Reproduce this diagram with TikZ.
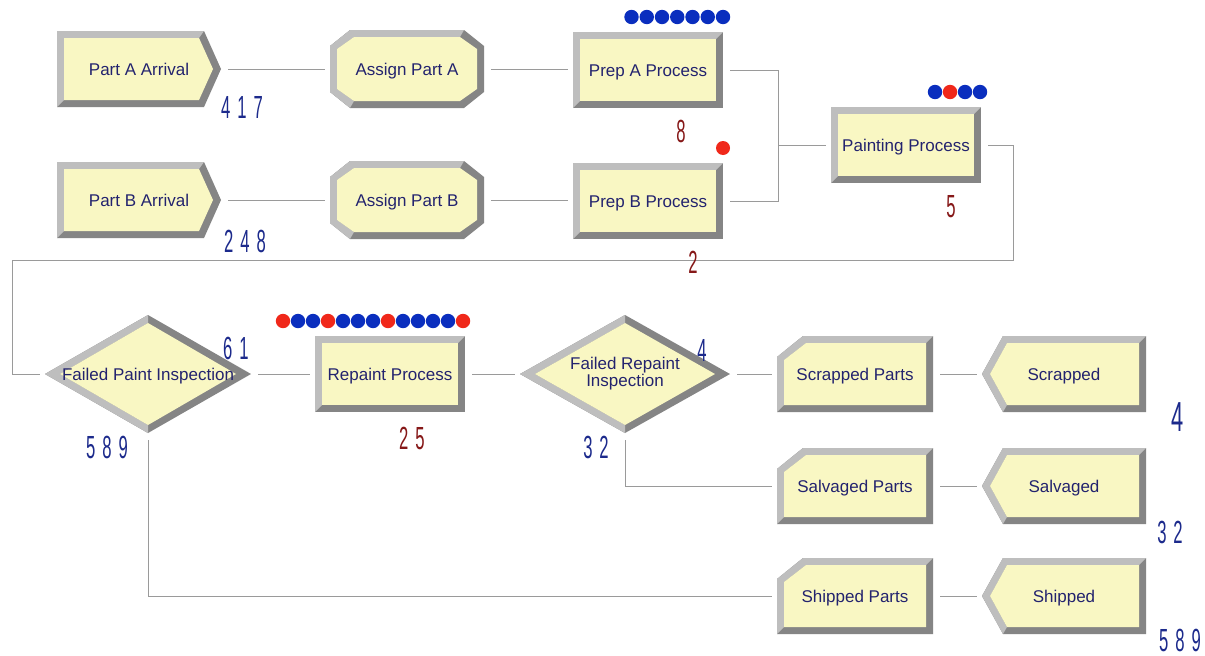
\documentclass[tikz,border=0pt]{standalone}
\usepackage{fontspec}
\setmainfont{Liberation Sans}
\newfontfamily\cntfont[FakeStretch=0.52]{Liberation Sans}
\newcommand{\gp}{\hspace{7pt}}
\definecolor{facec}{HTML}{F9F7C3}
\definecolor{lightc}{HTML}{BEBEBE}
\definecolor{darkc}{HTML}{858585}
\definecolor{txtc}{HTML}{23236E}
\definecolor{linec}{HTML}{9A9A9A}
\definecolor{cblue}{HTML}{1C2A8C}
\definecolor{cred}{HTML}{861818}
\definecolor{qblue}{HTML}{0A2EBE}
\definecolor{qred}{HTML}{F0281A}
\tikzset{
  bvdark/.style={fill=darkc},
  bvlight/.style={fill=lightc},
  bvface/.style={fill=facec},
  mod/.style={font=\fontsize{17}{17}\selectfont, text=txtc, align=center, inner sep=0pt, text height=12pt, text depth=0pt},
  createnode/.style={mod, minimum width=164pt, minimum height=76pt},
  assignnode/.style={mod, minimum width=154pt, minimum height=78pt},
  procnode/.style={mod, minimum width=150pt, minimum height=76pt},
  recnode/.style={mod, minimum width=156pt, minimum height=76pt},
  dispnode/.style={mod, minimum width=164pt, minimum height=76pt},
  decnode/.style={mod, minimum height=118pt},
  conn/.style={draw=linec, line width=1pt, shorten <=7pt, shorten >=5pt},
  cntb/.style={font=\cntfont\fontsize{32}{32}\selectfont, text=cblue, inner sep=0pt},
  cntr/.style={font=\cntfont\fontsize{32}{32}\selectfont, text=cred, inner sep=0pt},
  qb/.style={fill=qblue},
  qr/.style={fill=qred}
}
\newcommand{\CreateShape}[2]{%
  \begin{scope}[shift={(#1,#2)}]
    \fill[bvdark] (-82,-38) -- (65,-38) -- (82,0) -- (65,38) -- (-82,38) -- cycle;
    \fill[bvlight] (-82,38) -- (-82,-38) -- (65,-38) -- (60,-31) -- (-75,-31) -- (-75,31) -- cycle;
    \fill[bvface] (-75,-31) -- (60,-31) -- (74,0) -- (60,31) -- (-75,31) -- cycle;
  \end{scope}}
\newcommand{\AssignShape}[2]{%
  \begin{scope}[shift={(#1,#2)}]
    \fill[bvdark] (-77,-23) -- (-57,-39) -- (57,-39) -- (77,-23) -- (77,23) -- (57,39) -- (-57,39) -- (-77,23) -- cycle;
    \fill[bvlight] (-57,39) -- (-77,23) -- (-77,-23) -- (-57,-39) -- (57,-39) -- (53,-32) -- (-53,-32) -- (-70,-20) -- (-70,20) -- (-53,32) -- cycle;
    \fill[bvface] (-70,-20) -- (-53,-32) -- (53,-32) -- (70,-20) -- (70,20) -- (53,32) -- (-53,32) -- (-70,20) -- cycle;
  \end{scope}}
\newcommand{\ProcShape}[2]{%
  \begin{scope}[shift={(#1,#2)}]
    \fill[bvdark] (-75,-38) rectangle (75,38);
    \fill[bvlight] (-75,38) -- (-75,-38) -- (75,-38) -- (68,-31) -- (-68,-31) -- (-68,31) -- cycle;
    \fill[bvface] (-68,-31) rectangle (68,31);
  \end{scope}}
\newcommand{\RecShape}[2]{%
  \begin{scope}[shift={(#1,#2)}]
    \fill[bvdark] (-78,-17) -- (-52,-38) -- (78,-38) -- (78,38) -- (-78,38) -- cycle;
    \fill[bvlight] (-78,38) -- (-78,-17) -- (-52,-38) -- (78,-38) -- (71,-31) -- (-49,-31) -- (-71,-14) -- (-71,31) -- cycle;
    \fill[bvface] (-71,-14) -- (-49,-31) -- (71,-31) -- (71,31) -- (-71,31) -- cycle;
  \end{scope}}
\newcommand{\DispShape}[2]{%
  \begin{scope}[shift={(#1,#2)}]
    \fill[bvdark] (-82,0) -- (-61,-38) -- (82,-38) -- (82,38) -- (-61,38) -- cycle;
    \fill[bvlight] (-61,38) -- (-82,0) -- (-61,-38) -- (82,-38) -- (75,-31) -- (-57,-31) -- (-74,0) -- (-57,31) -- cycle;
    \fill[bvface] (-74,0) -- (-57,-31) -- (75,-31) -- (75,31) -- (-57,31) -- cycle;
  \end{scope}}
\newcommand{\DecShape}[3]{%
  \begin{scope}[shift={(#1,#2)}]
    \fill[bvdark] (-#3,0) -- (0,-59) -- (#3,0) -- (0,59) -- cycle;
    \fill[bvlight] (0,-59) -- (-#3,0) -- (0,59) -- (0,51) -- ({-(#3-15)},0) -- (0,-51) -- cycle;
    \fill[bvface] ({-(#3-15)},0) -- (0,-51) -- ({#3-15},0) -- (0,51) -- cycle;
  \end{scope}}
\begin{document}
\begin{tikzpicture}[x=1pt,y=-1pt]
\useasboundingbox (0,0) rectangle (1205,656);
\fill[white] (0,0) rectangle (1205,656);

% shapes
\CreateShape{139}{69}
\CreateShape{139}{200}
\AssignShape{407}{69}
\AssignShape{407}{200}
\ProcShape{648}{70}
\ProcShape{648}{201}
\ProcShape{906}{145}
\DecShape{148}{374}{103}
\ProcShape{390}{374}
\DecShape{625}{374}{105}
\RecShape{855}{374}
\RecShape{855}{486}
\RecShape{855}{596}
\DispShape{1064}{374}
\DispShape{1064}{486}
\DispShape{1064}{596}

% nodes
\node[createnode] (pa) at (139,69) {Part A Arrival};
\node[createnode] (pb) at (139,200) {Part B Arrival};
\node[assignnode] (aa) at (407,69) {Assign Part A};
\node[assignnode] (ab) at (407,200) {Assign Part B};
\node[procnode] (prepa) at (648,70) {Prep A Process};
\node[procnode] (prepb) at (648,201) {Prep B Process};
\node[procnode] (paint) at (906,145) {Painting Process};
\node[decnode, minimum width=206pt] (fpi) at (148,374) {Failed Paint Inspection};
\node[procnode] (rep) at (390,374) {Repaint Process};
\node[decnode, minimum width=210pt, text height={}, text depth={}] (fri) at (625,374) {Failed Repaint\\Inspection};
\node[recnode] (scrp) at (855,374) {Scrapped Parts};
\node[recnode] (salp) at (855,486) {Salvaged Parts};
\node[recnode] (shpp) at (855,596) {Shipped Parts};
\node[dispnode] (scr) at (1064,374) {Scrapped};
\node[dispnode] (sal) at (1064,486) {Salvaged};
\node[dispnode] (shp) at (1064,596) {Shipped};

% connectors
\coordinate (jn) at (778,145);
\coordinate (r1) at (1013,260);
\coordinate (r2) at (12,260);
\draw[conn] (pa.east) -- (aa.west);
\draw[conn] (aa.east) -- (aa.east -| prepa.west);
\draw[conn] (pb.east) -- (ab.west);
\draw[conn] (ab.east) -- (ab.east -| prepb.west);
\draw[conn, shorten >=0pt] (prepa.east) -| (jn);
\draw[conn, shorten >=0pt] (prepb.east) -| (jn);
\draw[conn, shorten <=0pt] (jn) -- (paint.west);
\draw[conn] (paint.east) -| (r1) -- (r2) |- (fpi.west);
\draw[conn] (fpi.east) -- (rep.west);
\draw[conn] (rep.east) -- (fri.west);
\draw[conn] (fri.east) -- (scrp.west);
\draw[conn] (fri.south) |- (salp.west);
\draw[conn] (fpi.south) |- (shpp.west);
\draw[conn] (scrp.east) -- (scr.west);
\draw[conn] (salp.east) -- (sal.west);
\draw[conn] (shpp.east) -- (shp.west);

% queues
\foreach \i in {0,...,6} \fill[qb] ({631.5+15.25*\i},17) circle (7.2pt);
\fill[qr] (723,148) circle (7pt);
\foreach \c [count=\i from 0] in {qb,qr,qb,qb} \fill[\c] ({935+15*\i},92) circle (7.2pt);
\foreach \c [count=\i from 0] in {qr,qb,qb,qr,qb,qb,qb,qr,qb,qb,qb,qb,qr} \fill[\c] ({283+15*\i},321) circle (7.2pt);

% counters
\node[cntb] (c1) at (242,107) {4\gp 1\gp 7};
\node[cntb] (c2) at (245,241) {2\gp 4\gp 8};
\node[cntr] (c3) at (681,131) {8};
\node[cntr] (c4) at (693,262) {2};
\node[cntr] (c5) at (951,207) {5};
\node[cntb] (c6) at (236,348) {6\gp 1};
\node[cntb] (c7) at (107,447) {5\gp 8\gp 9};
\node[cntr] (c8) at (412,438) {2\gp 5};
\node[cntb] (c9) at (702,350) {4};
\node[cntb] (c10) at (596,447) {3\gp 2};
\node[cntb, font=\cntfont\fontsize{42}{42}\selectfont] (c11) at (1178,417) {4};
\node[cntb] (c12) at (1170,532) {3\gp 2};
\node[cntb] (c13) at (1180,640) {5\gp 8\gp 9};
\end{tikzpicture}
\end{document}
